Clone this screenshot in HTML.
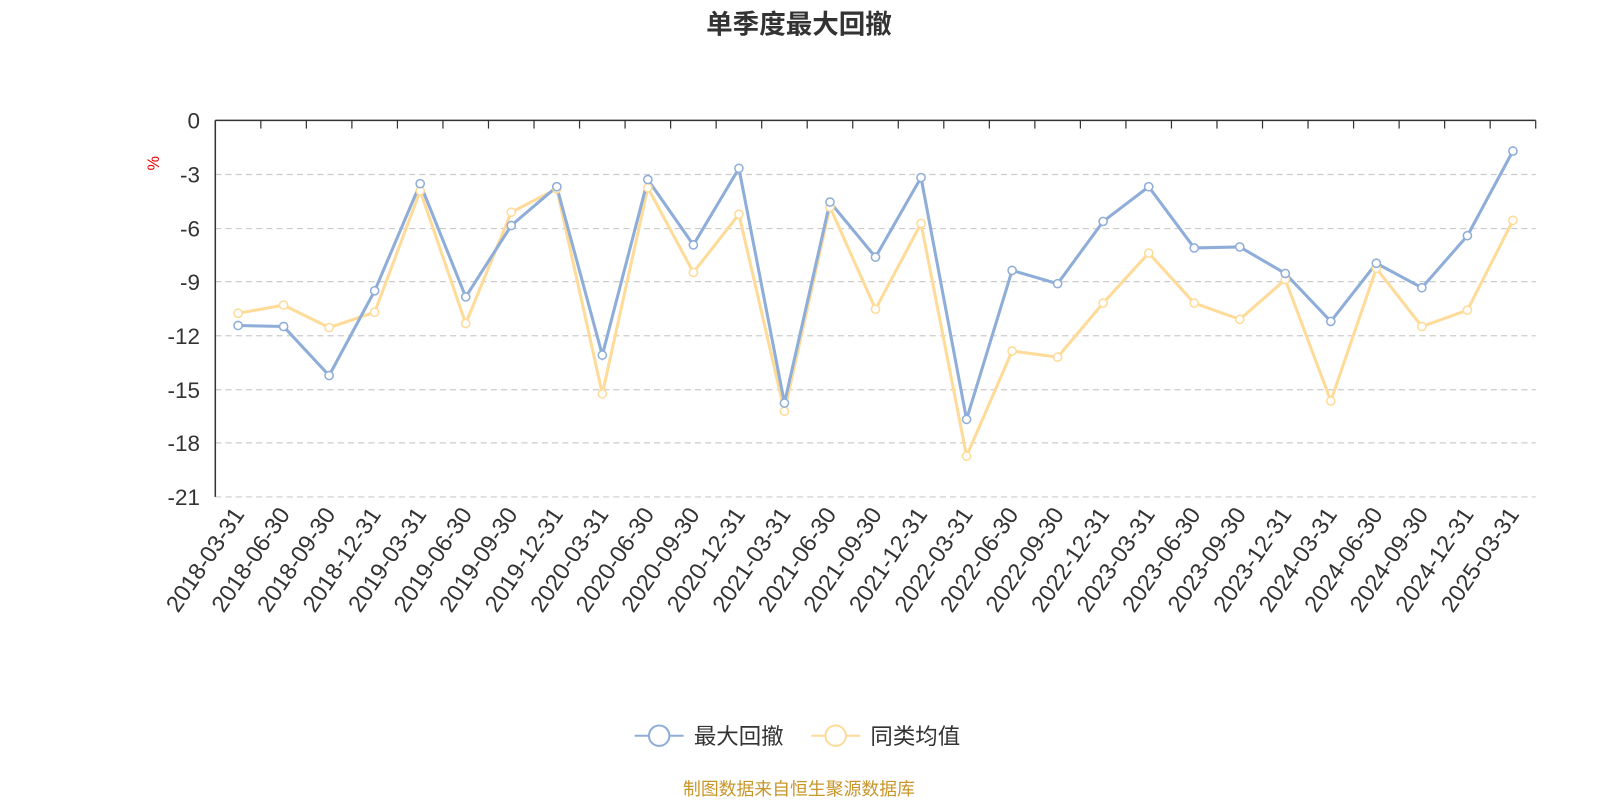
<!DOCTYPE html>
<html><head><meta charset="utf-8"><style>
body{margin:0;background:#fff;}
svg text{font-family:"Liberation Sans","Noto Sans CJK SC",sans-serif;}
</style></head><body>
<svg width="1600" height="800" xmlns="http://www.w3.org/2000/svg">
<rect width="1600" height="800" fill="#fff"/>
<g transform="scale(1.0204)">
<text x="783" y="33" text-anchor="middle" font-size="26" font-weight="bold" fill="#333">单季度最大回撤</text>
<text x="0" y="0" transform="translate(156,160) rotate(-90)" text-anchor="middle" font-size="16" fill="#e00">%</text>
<g stroke="#ccc" stroke-dasharray="6,4" stroke-width="1.2">
<line x1="211" x2="1505" y1="171" y2="171"/><line x1="211" x2="1505" y1="224" y2="224"/>
<line x1="211" x2="1505" y1="276" y2="276"/><line x1="211" x2="1505" y1="329" y2="329"/>
<line x1="211" x2="1505" y1="382" y2="382"/><line x1="211" x2="1505" y1="434" y2="434"/>
<line x1="211" x2="1505" y1="487" y2="487"/>
</g>
<line x1="211" y1="118" x2="211" y2="487" stroke="#333" stroke-width="1.5"/>
<line x1="211" y1="118" x2="1505" y2="118" stroke="#333" stroke-width="1.5"/>
<g stroke="#333" stroke-width="1.2" id="ticks"></g>
<g font-size="22" fill="#333" text-anchor="end">
<text x="196" y="126">0</text><text x="196" y="179">-3</text><text x="196" y="232">-6</text>
<text x="196" y="284">-9</text><text x="196" y="337">-12</text><text x="196" y="390">-15</text>
<text x="196" y="442">-18</text><text x="196" y="495">-21</text>
</g>
<g id="xl" font-size="23" fill="#333" text-anchor="end"></g>
<polyline id="y1" fill="none" stroke="#ffdb99" stroke-width="3"/>
<polyline id="b1" fill="none" stroke="#8eadd8" stroke-width="3"/>
<g id="pts"></g>
<line x1="622" y1="721" x2="670" y2="721" stroke="#8eadd8" stroke-width="2"/>
<circle cx="646" cy="721" r="10" fill="#fff" stroke="#8eadd8" stroke-width="2"/>
<text x="680" y="729" font-size="22" fill="#333">最大回撤</text>
<line x1="795" y1="721" x2="843" y2="721" stroke="#ffdb99" stroke-width="2"/>
<circle cx="819" cy="721" r="10" fill="#fff" stroke="#ffdb99" stroke-width="2"/>
<text x="853" y="729" font-size="22" fill="#333">同类均值</text>
<text x="783" y="779" text-anchor="middle" font-size="17.5" fill="#c8962a">制图数据来自恒生聚源数据库</text>
</g>
</svg>
<script>
var ns="http://www.w3.org/2000/svg";
var labels=[];for(var y=2018;y<=2025;y++){["03-31","06-30","09-30","12-31"].forEach(function(d){labels.push(y+"-"+d);});}
labels=labels.slice(0,29);
var B=[319,320,368,285,180,291,221,183,348,176,240,165,395,198,252,174,411,265,278,217,183,243,242,268,315,258,282,231,148];
var Y=[307,299,321,306,187,317,208,185,386,184,267,210,403,203,303,219,447,344,350,297,248,297,313,274,393,263,320,304,216];
var w=1294/29,bp=[],yp=[],t=document.getElementById('ticks'),xl=document.getElementById('xl'),pts=document.getElementById('pts');
for(var i=0;i<=29;i++){var l=document.createElementNS(ns,'line');var x=211+i*w;l.setAttribute('x1',x);l.setAttribute('x2',x);l.setAttribute('y1',118);l.setAttribute('y2',126);t.appendChild(l);}
for(var i=0;i<29;i++){var x=211+w*(i+0.5);bp.push(x+','+B[i]);yp.push(x+','+Y[i]);
var tx=document.createElementNS(ns,'text');tx.setAttribute('transform','translate('+(x+7)+',504) rotate(-56)');tx.textContent=labels[i];xl.appendChild(tx);}
document.getElementById('b1').setAttribute('points',bp.join(' '));
document.getElementById('y1').setAttribute('points',yp.join(' '));
for(var i=0;i<29;i++){var x=211+w*(i+0.5);
[[Y[i],'#ffdb99'],[B[i],'#8eadd8']].forEach(function(p){var c=document.createElementNS(ns,'circle');c.setAttribute('cx',x);c.setAttribute('cy',p[0]);c.setAttribute('r',4);c.setAttribute('fill','#fff');c.setAttribute('stroke',p[1]);c.setAttribute('stroke-width',1.5);pts.appendChild(c);});}
</script>
</body></html>
